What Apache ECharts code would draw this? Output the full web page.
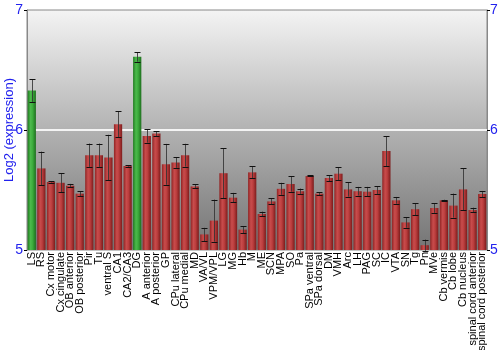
<!DOCTYPE html>
<html><head><meta charset="utf-8">
<script src="https://cdn.jsdelivr.net/npm/echarts@6/dist/echarts.min.js"></script>
<style>html,body{margin:0;padding:0;background:#fff}#c{width:500px;height:350px}</style>
</head><body><div id="c"></div>
<script>
const categories = ["LS","RS","Cx motor","Cx cingulate","OB anterior","OB posterior","Pir","Tu","ventral S","CA1","CA2/CA3","DG","A anterior","A posterior","GP","CPu lateral","CPu medial","MD","VA/VL","VPM/VPL","LG","MG","Hb","M","ME","SCN","MPA","SO","Pa","SPa ventral","SPa dorsal","DM","VMH","Arc","LH","PAG","SC","IC","VTA","SN","Tg","Pn","MVe","Cb vermis","Cb lobe","Cb nucleus","spinal cord anterior","spinal cord posterior"];
const values = [6.33,5.68,5.567,5.56,5.536,5.47,5.79,5.79,5.77,6.047,5.70,6.61,5.95,5.97,5.714,5.73,5.79,5.53,5.13,5.245,5.64,5.436,5.17,5.647,5.30,5.405,5.51,5.55,5.49,5.617,5.47,5.60,5.636,5.505,5.49,5.486,5.50,5.825,5.414,5.23,5.34,5.04,5.35,5.414,5.37,5.505,5.333,5.467];
const errors = [0.095,0.14,0.005,0.08,0.015,0.02,0.097,0.097,0.19,0.108,0.006,0.04,0.055,0.02,0.17,0.045,0.095,0.017,0.055,0.175,0.21,0.04,0.03,0.05,0.02,0.025,0.05,0.064,0.022,0.004,0.011,0.025,0.053,0.06,0.036,0.04,0.033,0.125,0.028,0.044,0.05,0.047,0.04,0.005,0.1,0.175,0.02,0.025];
const highlighted = ["LS","DG"];
const yTicks = [5,6,7];

const redGrad = new echarts.graphic.LinearGradient(0,0,1,0,[{offset:0,color:'#902424'},{offset:0.35,color:'#c84c4c'},{offset:0.6,color:'#bc3e3e'},{offset:1,color:'#7c1c1c'}]);
const greenGrad = new echarts.graphic.LinearGradient(0,0,1,0,[{offset:0,color:'#207a20'},{offset:0.35,color:'#4cba4c'},{offset:0.6,color:'#3cac3c'},{offset:1,color:'#1e6e1e'}]);

const barData = values.map((v,i)=>({value:v,itemStyle:{color: highlighted.includes(categories[i]) ? greenGrad : redGrad}}));
const errData = values.map((v,i)=>[i, v-errors[i], v+errors[i]]);

const chart = echarts.init(document.getElementById('c'));
chart.setOption({
  animation:false,
  grid:{left:27,right:13,top:10,bottom:100,show:true,borderColor:'#888',borderWidth:1,
    containLabel:false,outerBoundsMode:'none',
    backgroundColor:new echarts.graphic.LinearGradient(0,0,0,1,[{offset:0,color:'#f4f4f4'},{offset:0.5,color:'#b2b2b2'},{offset:1,color:'#747474'}])},
  xAxis:{type:'category',data:categories,
    axisLine:{show:false},axisTick:{show:false},
    axisLabel:{rotate:90,interval:0,fontSize:11,color:'#000',fontFamily:'Liberation Sans, Arial, sans-serif',margin:2}},
  yAxis:[
    {type:'value',min:yTicks[0],max:yTicks[yTicks.length-1],interval:1,position:'left',
     name:'Log2 (expression)',nameLocation:'middle',nameGap:11,nameMoveOverlap:false,
     nameTextStyle:{color:'#2222ee',fontSize:13,fontFamily:'Liberation Sans, Arial, sans-serif'},
     axisLine:{show:true,lineStyle:{color:'#888'}},axisTick:{show:true,length:3,lineStyle:{color:'#000'}},
     axisLabel:{color:'#2222ee',fontSize:14,margin:4,fontFamily:'Liberation Sans, Arial, sans-serif'},
     splitLine:{show:true,showMinLine:false,showMaxLine:false,lineStyle:{color:'#f4f4f4',width:2}}},
    {type:'value',min:yTicks[0],max:yTicks[yTicks.length-1],interval:1,position:'right',
     axisLine:{show:true,lineStyle:{color:'#888'}},axisTick:{show:true,length:3,lineStyle:{color:'#000'}},
     axisLabel:{color:'#2222ee',fontSize:14,margin:3,fontFamily:'Liberation Sans, Arial, sans-serif'},
     splitLine:{show:false}}
  ],
  series:[
    {type:'bar',data:barData,barCategoryGap:'14%',yAxisIndex:0},
    {type:'custom',yAxisIndex:0,data:errData,z:5,
     renderItem:function(params,api){
       const x=api.value(0);
       const lo=api.coord([x,api.value(1)]);
       const hi=api.coord([x,api.value(2)]);
       const cx=Math.round(lo[0])+0.5;
       const w=3;
       const style={stroke:'#111',lineWidth:1};
       return {type:'group',children:[
         {type:'line',shape:{x1:cx,y1:hi[1],x2:cx,y2:lo[1]},style:{stroke:'#333',lineWidth:1,opacity:0.85}},
         {type:'line',shape:{x1:cx-w,y1:Math.round(hi[1])+0.5,x2:cx+w,y2:Math.round(hi[1])+0.5},style:style},
         {type:'line',shape:{x1:cx-w,y1:Math.round(lo[1])+0.5,x2:cx+w,y2:Math.round(lo[1])+0.5},style:style}
       ]};
     }}
  ]
});
</script></body></html>
